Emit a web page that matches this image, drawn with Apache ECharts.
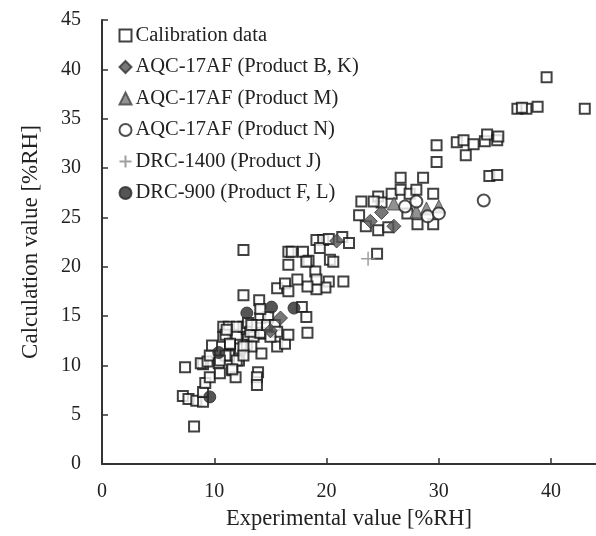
<!DOCTYPE html>
<html><head><meta charset="utf-8">
<script src="https://cdn.jsdelivr.net/npm/echarts@6/dist/echarts.min.js"></script>
<style>html,body{margin:0;padding:0;background:#fff}#c{width:596px;height:536px}</style>
</head><body><div id="c"></div>
<script>
const xTicks = [0, 10, 20, 30, 40];
const yTicks = [0, 5, 10, 15, 20, 25, 30, 35, 40, 45];
const seriesNames = ["Calibration data", "AQC-17AF (Product B, K)", "AQC-17AF (Product M)", "AQC-17AF (Product N)", "DRC-1400 (Product J)", "DRC-900 (Product F, L)"];

const calibration = [
  [8.2,3.8],[7.4,9.8],[7.2,6.9],[7.7,6.6],[8.4,6.4],[9.0,6.3],[9.0,7.3],[9.2,8.2],[9.6,8.8],[9.0,10.1],
  [8.8,10.2],[9.4,10.4],[9.6,11.0],[9.8,12.0],[10.4,10.2],[10.5,9.2],[10.8,12.9],[11.4,12.1],[12.2,10.5],[11.6,9.5],
  [11.9,8.8],[11.3,11.0],[12.3,11.7],[12.9,12.1],[13.0,13.1],[14.2,11.2],[13.9,9.3],[13.8,8.8],[13.8,8.0],[15.6,11.9],
  [16.3,12.2],[14.1,13.2],[10.8,13.9],[11.3,13.9],[11.0,13.1],[12.0,13.1],[12.9,13.7],[13.5,12.9],[13.3,11.9],[12.6,11.9],
  [11.4,12.2],[11.0,11.0],[10.5,10.5],[12.6,13.9],[14.1,13.3],[12.0,10.5],[12.6,11.0],[11.6,9.6],
  [12.6,21.7],[12.6,17.1],[14.0,16.6],[14.1,14.8],[14.8,14.9],[13.0,14.3],[12.0,13.9],[11.1,13.6],[13.2,13.4],[14.7,14.1],
  [15.4,14.1],[15.6,13.4],[15.0,12.9],[13.8,14.1],[13.3,14.1],[14.1,15.7],[16.6,21.5],[16.6,20.2],[15.6,17.8],[16.3,18.3],
  [16.6,17.5],[16.9,21.5],[17.9,21.5],[18.4,20.6],[19.1,22.7],[19.7,22.7],[19.4,21.9],[20.2,22.8],[21.4,23.0],[22.0,22.4],
  [20.3,20.7],[20.6,20.5],[21.5,18.5],[20.2,18.5],[19.9,17.9],[19.1,17.7],[19.0,19.5],[19.1,18.7],[18.3,18.0],[17.4,18.7],
  [17.8,15.9],[18.2,14.9],[18.3,13.3],[16.6,13.1],[18.2,20.5],
  [24.5,21.3],[23.1,26.6],[22.9,25.2],[23.5,24.1],[24.6,23.7],[25.5,24.0],[24.6,27.1],[24.9,26.5],[25.8,27.4],[26.6,27.8],
  [27.4,27.4],[28.0,27.8],[27.2,25.4],[28.1,24.3],[29.5,24.3],[24.2,26.6],[29.5,27.4],[26.6,29.0],[28.6,29.0],[29.8,30.6],
  [29.8,32.3],[31.6,32.6],[32.2,32.8],[32.4,31.3],[33.1,32.4],[34.1,32.7],[34.3,33.4],[35.2,32.8],[35.3,33.2],[34.5,29.2],
  [35.2,29.3],[37.0,36.0],[37.8,36.0],[38.8,36.2],[39.6,39.2],[43.0,36.0],[37.4,36.1]
];
const aqcBK = [[20.9,22.6],[15.9,14.8],[15.0,13.5],[23.9,24.6],[24.9,25.5],[26.0,24.1]];
const aqcM = [[26.0,26.4],[28.0,25.6],[28.9,25.9],[30.0,26.1]];
const aqcN = [[27.0,26.1],[28.0,26.6],[29.0,25.1],[30.0,25.4],[34.0,26.7]];
const drc1400 = [[23.7,20.8]];
const drc900 = [[9.6,6.8],[10.4,11.3],[12.9,15.3],[15.1,15.9],[17.1,15.8]];

const FONT = '"Liberation Serif", "DejaVu Serif", serif';
const chart = echarts.init(document.getElementById('c'), null, {renderer: 'canvas'});
const tickStyle = {show: true, inside: true, length: 6, lineStyle: {color: '#333', width: 1.5}};
const lineStyle = {show: true, lineStyle: {color: '#333', width: 2}};
chart.setOption({
  animation: false,
  backgroundColor: '#fff',
  grid: {left: 102, top: 20, bottom: 72, right: 0, containLabel: false},
  xAxis: {
    type: 'value', min: 0, max: 44,
    axisLine: lineStyle,
    axisTick: Object.assign({}, tickStyle, {customValues: xTicks}),
    splitLine: {show: false},
    name: 'Experimental value [%RH]', nameLocation: 'middle', nameGap: 44,
    nameTextStyle: {fontFamily: FONT, fontSize: 22.5, color: '#222'},
    axisLabel: {fontFamily: FONT, fontSize: 20, color: '#222', margin: 18, customValues: xTicks}
  },
  yAxis: {
    type: 'value', min: 0, max: 45, interval: 5,
    axisLine: lineStyle,
    axisTick: Object.assign({}, tickStyle, {customValues: yTicks}),
    splitLine: {show: false},
    name: 'Calculation value [%RH]', nameLocation: 'middle', nameGap: 60,
    nameTextStyle: {fontFamily: FONT, fontSize: 23, color: '#222'},
    axisLabel: {fontFamily: FONT, fontSize: 20, color: '#222', margin: 21, customValues: yTicks}
  },
  legend: {
    orient: 'vertical', left: 117, top: 25, padding: 0, itemGap: 10.5, itemWidth: 12, itemHeight: 12,
    textStyle: {fontFamily: FONT, fontSize: 20.5, color: '#222', padding: [0,0,0,-1]},
    data: seriesNames
  },
  series: [
    {name: seriesNames[0], type: 'scatter', data: calibration, symbol: 'rect', symbolSize: 10,
     itemStyle: {color: '#fff', borderColor: '#111', borderWidth: 2}},
    {name: seriesNames[1], type: 'scatter', data: aqcBK, symbol: 'diamond', symbolSize: 14,
     itemStyle: {color: '#555', borderColor: '#333', borderWidth: 1}},
    {name: seriesNames[2], type: 'scatter', data: aqcM, symbol: 'triangle', symbolSize: 13,
     itemStyle: {color: '#777', borderColor: '#444', borderWidth: 1}},
    {name: seriesNames[3], type: 'scatter', data: aqcN, symbol: 'circle', symbolSize: 12,
     itemStyle: {color: '#fff', borderColor: '#222', borderWidth: 2}},
    {name: seriesNames[4], type: 'scatter', data: drc1400, symbol: 'path://M0,5L10,5M5,0L5,10', symbolSize: 14,
     itemStyle: {color: 'none', borderColor: '#888', borderWidth: 1.5}},
    {name: seriesNames[5], type: 'scatter', data: drc900, symbol: 'circle', symbolSize: 12,
     itemStyle: {color: '#2a2a2a', borderColor: '#2a2a2a', borderWidth: 1}}
  ]
});
</script></body></html>
